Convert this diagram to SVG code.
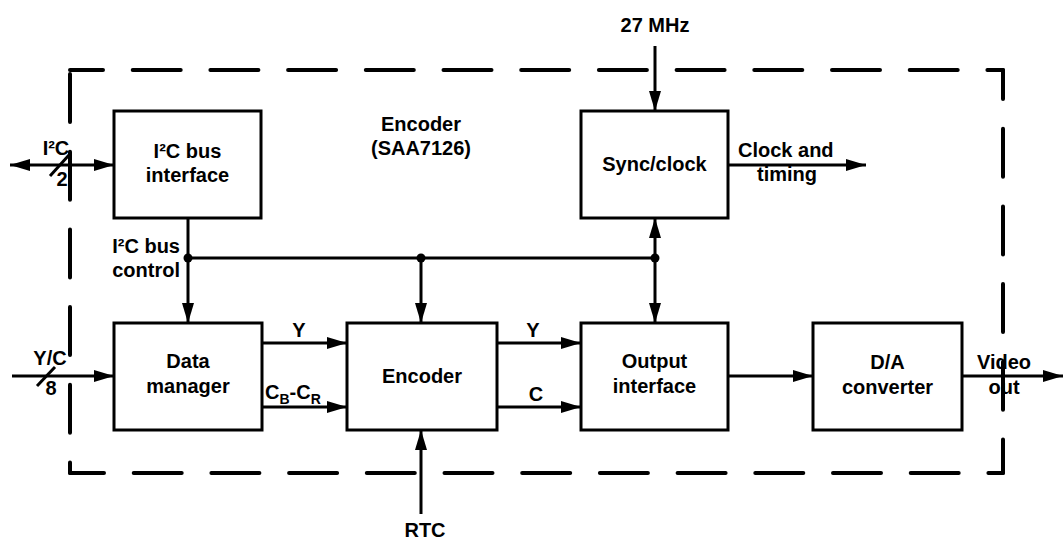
<svg xmlns="http://www.w3.org/2000/svg" width="1064" height="541" viewBox="0 0 1064 541">
<style>
text{font-family:"Liberation Sans",Arial,sans-serif;font-weight:bold;font-size:20px;fill:#000}
.m{text-anchor:middle}
.e{text-anchor:end}
.box{fill:#fff;stroke:#000;stroke-width:3}
.ln{fill:none;stroke:#000;stroke-width:3}
.arr{marker-end:url(#ah)}
.dash{fill:none;stroke:#000;stroke-width:4;stroke-dasharray:48 29.7;stroke-linecap:round}
.sub{font-size:14px}
</style>
<defs>
<marker id="ah" markerUnits="userSpaceOnUse" markerWidth="20" markerHeight="12" refX="20" refY="6" orient="auto-start-reverse" viewBox="0 0 20 12">
<path d="M0,0 L20,6 L0,12 z" fill="#000"/>
</marker>
</defs>
<rect width="1064" height="541" fill="#fff"/>
<g id="border">
<line class="dash" x1="70" y1="70" x2="1003" y2="70" style="stroke-dashoffset:15"/>
<line class="dash" x1="70" y1="70" x2="70" y2="473" style="stroke-dashoffset:-4"/>
<line class="dash" x1="70" y1="473" x2="1003" y2="473" style="stroke-dashoffset:14"/>
<line class="dash" x1="1003" y1="70" x2="1003" y2="473" style="stroke-dashoffset:19"/>
</g>
<g id="connectors">
<line class="ln arr" x1="10" y1="165" x2="114" y2="165" style="marker-start:url(#ah)"/>
<line class="ln" x1="50" y1="176" x2="69" y2="155"/>
<line class="ln arr" x1="12" y1="376" x2="114" y2="376"/>
<line class="ln" x1="37" y1="386" x2="55" y2="367"/>
<line class="ln arr" x1="188" y1="218" x2="188" y2="323"/>
<line class="ln" x1="188" y1="258" x2="655" y2="258"/>
<line class="ln arr" x1="421" y1="258" x2="421" y2="323"/>
<line class="ln arr" x1="655" y1="258" x2="655" y2="218"/>
<line class="ln arr" x1="655" y1="258" x2="655" y2="323"/>
<line class="ln arr" x1="655" y1="46" x2="655" y2="111"/>
<line class="ln arr" x1="728" y1="165" x2="866" y2="165"/>
<line class="ln arr" x1="262" y1="343" x2="347" y2="343"/>
<line class="ln arr" x1="262" y1="407" x2="347" y2="407"/>
<line class="ln arr" x1="497" y1="343" x2="581" y2="343"/>
<line class="ln arr" x1="497" y1="407" x2="581" y2="407"/>
<line class="ln arr" x1="728" y1="376" x2="813" y2="376"/>
<line class="ln arr" x1="962" y1="376" x2="1063" y2="376"/>
<line class="ln arr" x1="421" y1="514" x2="421" y2="430"/>
<circle cx="188" cy="258" r="4.5"/>
<circle cx="421" cy="258" r="4.5"/>
<circle cx="655" cy="258" r="4.5"/>
</g>
<g id="labels">
<text x="56" y="155" class="m">I²C</text>
<text x="62" y="186" class="m">2</text>
<text x="50" y="365" class="m">Y/C</text>
<text x="51" y="395" class="m">8</text>
<text x="180" y="253" class="e">I²C bus</text>
<text x="180" y="277" class="e">control</text>
<text x="421" y="131" class="m">Encoder</text>
<text x="421" y="155" class="m">(SAA7126)</text>
<text x="655" y="32" class="m">27 MHz</text>
<text x="738" y="157">Clock and</text>
<text x="787" y="181" class="m">timing</text>
<text x="299" y="337" class="m">Y</text>
<text x="265" y="399">C<tspan class="sub" dy="5">B</tspan><tspan dy="-5">-C</tspan><tspan class="sub" dy="5">R</tspan></text>
<text x="533" y="337" class="m">Y</text>
<text x="536" y="401" class="m">C</text>
<text x="1004" y="369" class="m">Video</text>
<text x="1004" y="394" class="m">out</text>
<text x="425" y="537" class="m">RTC</text>
</g>
<g id="i2c-interface">
<rect class="box" x="114" y="111" width="147" height="107"/>
<text x="187.5" y="158" class="m">I²C bus</text>
<text x="187.5" y="182" class="m">interface</text>
</g>
<g id="sync-clock">
<rect class="box" x="581" y="111" width="147" height="107"/>
<text x="654.5" y="171" class="m">Sync/clock</text>
</g>
<g id="data-manager">
<rect class="box" x="114" y="323" width="148" height="107"/>
<text x="188" y="368" class="m">Data</text>
<text x="188" y="393" class="m">manager</text>
</g>
<g id="encoder">
<rect class="box" x="347" y="323" width="150" height="107"/>
<text x="422" y="383" class="m">Encoder</text>
</g>
<g id="output-interface">
<rect class="box" x="581" y="323" width="147" height="107"/>
<text x="654.5" y="368" class="m">Output</text>
<text x="654.5" y="393" class="m">interface</text>
</g>
<g id="da-converter">
<rect class="box" x="813" y="323" width="149" height="107"/>
<text x="887.5" y="369" class="m">D/A</text>
<text x="887.5" y="394" class="m">converter</text>
</g>
</svg>
